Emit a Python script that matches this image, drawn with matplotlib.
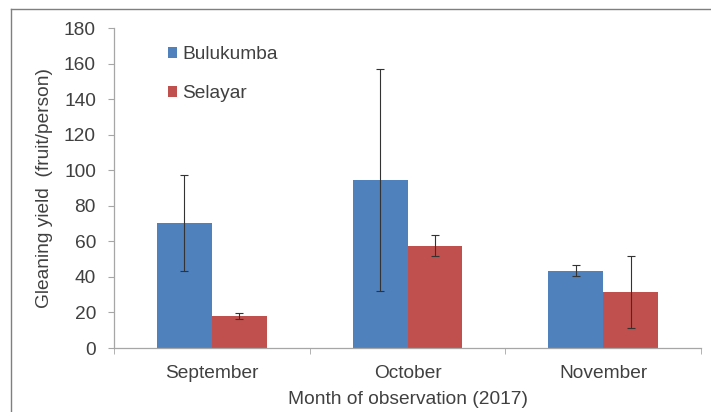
import numpy as np
import matplotlib
matplotlib.use('Agg')
import matplotlib.pyplot as plt
from matplotlib.lines import Line2D

plt.rcParams['font.family'] = ['Liberation Sans', 'DejaVu Sans']

# data
months = ['September', 'October', 'November']
bulukumba = [70.5, 94.5, 43.5]
bulukumba_err = [27.0, 62.5, 3.0]
selayar = [17.8, 57.5, 31.5]
selayar_err = [1.7, 6.0, 20.0]

BLUE = '#4F81BD'
RED = '#C0504D'
AXIS_GRAY = '#A6A6A6'
TEXT = '#404040'
FS = 13.8

fig = plt.figure(figsize=(7.11, 4.12), dpi=100)
ax = fig.add_axes([0.1603, 0.1553, 0.8257, 0.7767])

x = np.arange(len(months))
w = 0.28
err_kw = dict(ecolor='#333333', elinewidth=0.8, capsize=3, capthick=0.8)
ax.bar(x - w / 2, bulukumba, w, yerr=bulukumba_err, color=BLUE,
       label='Bulukumba', error_kw=err_kw, zorder=2)
ax.bar(x + w / 2, selayar, w, yerr=selayar_err, color=RED,
       label='Selayar', error_kw=err_kw, zorder=2)

ax.set_xlim(-0.5, len(months) - 0.5)
ax.set_ylim(0, 180)
ax.set_yticks(range(0, 181, 20))
ax.set_xticks(x)
ax.set_xticklabels(months)
ax.set_xticks(np.arange(-0.5, len(months), 1.0), minor=True)
ax.tick_params(axis='x', which='major', length=0, labelsize=FS,
               labelcolor=TEXT, pad=12)
ax.tick_params(axis='x', which='minor', length=4, color=AXIS_GRAY,
               direction='out')
ax.tick_params(axis='y', length=4, color=AXIS_GRAY, labelsize=FS,
               labelcolor=TEXT, pad=9)

for s in ('top', 'right'):
    ax.spines[s].set_visible(False)
for s in ('left', 'bottom'):
    ax.spines[s].set_color(AXIS_GRAY)
    ax.spines[s].set_linewidth(0.9)

ax.set_ylabel('Gleaning yield  (fruit/person)', fontsize=FS, color=TEXT,
              labelpad=8)
ax.set_xlabel('Month of observation (2017)', fontsize=FS, color=TEXT,
              labelpad=7)

leg = ax.legend(loc='upper left', bbox_to_anchor=(0.062, 0.998), frameon=False,
                fontsize=FS, handlelength=0.5, handleheight=0.5,
                handletextpad=0.25, labelspacing=1.15, labelcolor=TEXT)

# outer frame (left and top edges visible in the reference)
fig.add_artist(Line2D([11 / 711, 11 / 711], [0, 1 - 9 / 412],
                      transform=fig.transFigure, color='#7F7F7F', lw=1))
fig.add_artist(Line2D([11 / 711, 1], [1 - 9 / 412, 1 - 9 / 412],
                      transform=fig.transFigure, color='#7F7F7F', lw=1))

fig.savefig('out.png', dpi=100, facecolor='white')
